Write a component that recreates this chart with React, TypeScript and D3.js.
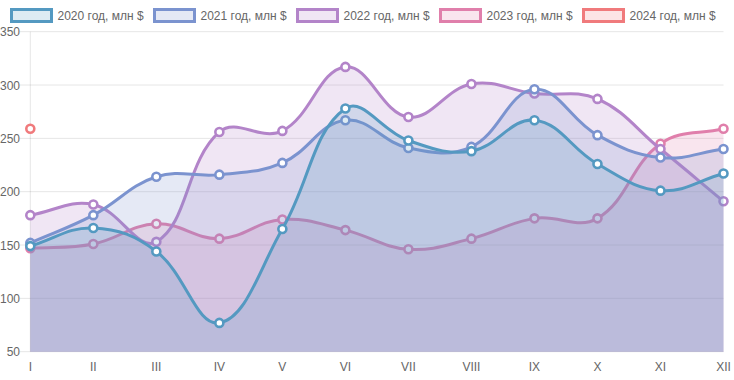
import React from "react";
import * as d3 from "d3";

const months = ["I", "II", "III", "IV", "V", "VI", "VII", "VIII", "IX", "X", "XI", "XII"];
const seriesNames = ["2020 год, млн $", "2021 год, млн $", "2022 год, млн $", "2023 год, млн $", "2024 год, млн $"];
const values2020: (number | null)[] = [149, 166, 144, 77, 165, 278, 248, 238, 267, 226, 201, 217];
const values2021: (number | null)[] = [152, 178, 214, 216, 227, 267, 241, 242, 296, 253, 232, 240];
const values2022: (number | null)[] = [178, 188, 153, 256, 257, 317, 270, 301, 292, 287, 240, 191];
const values2023: (number | null)[] = [147, 151, 170, 156, 174, 164, 146, 156, 175, 175, 245, 259];
const values2024: (number | null)[] = [259, null, null, null, null, null, null, null, null, null, null, null];
const yTicks = [50, 100, 150, 200, 250, 300, 350];
const colors = ["#5499c1", "#7b93cf", "#b384c9", "#e07fab", "#f07a7c"];

const W = 734;
const H = 380;
const LEFT = 30.3;
const RIGHT = 723.5;
const TOP = 31.7;
const BOTTOM = 351.7;
const FONT = "'Liberation Sans', Arial, Helvetica, sans-serif";

function chartJsCurve(t: number) {
  return (context: any) => {
    let pts: [number, number][] = [];
    let lineState: any = undefined;
    const clampX = (v: number) => Math.max(LEFT, Math.min(RIGHT, v));
    const clampY = (v: number) => Math.max(TOP, Math.min(BOTTOM, v));
    return {
      areaStart() { lineState = 0; },
      areaEnd() { lineState = NaN; },
      lineStart() { pts = []; },
      lineEnd() {
        const n = pts.length;
        if (n > 0) {
          if (lineState) context.lineTo(pts[0][0], pts[0][1]);
          else context.moveTo(pts[0][0], pts[0][1]);
          const cps = pts.map((p, i) => {
            const prev = pts[i - 1] || p;
            const next = pts[i + 1] || p;
            const d01 = Math.hypot(p[0] - prev[0], p[1] - prev[1]);
            const d12 = Math.hypot(next[0] - p[0], next[1] - p[1]);
            let s01 = d01 / (d01 + d12);
            let s12 = d12 / (d01 + d12);
            if (isNaN(s01)) s01 = 0;
            if (isNaN(s12)) s12 = 0;
            const fa = t * s01;
            const fb = t * s12;
            return {
              px: clampX(p[0] - fa * (next[0] - prev[0])),
              py: clampY(p[1] - fa * (next[1] - prev[1])),
              nx: clampX(p[0] + fb * (next[0] - prev[0])),
              ny: clampY(p[1] + fb * (next[1] - prev[1])),
            };
          });
          for (let i = 1; i < n; i++) {
            context.bezierCurveTo(cps[i - 1].nx, cps[i - 1].ny, cps[i].px, cps[i].py, pts[i][0], pts[i][1]);
          }
        }
        if (lineState || (lineState !== 0 && n === 1)) context.closePath();
        lineState = 1 - lineState;
      },
      point(x: number, y: number) { pts.push([+x, +y]); },
    };
  };
}

export default function App() {
  const series = [values2020, values2021, values2022, values2023, values2024];
  const x = d3.scalePoint<string>().domain(months).range([LEFT, RIGHT]);
  const y = d3.scaleLinear().domain([50, 350]).range([BOTTOM, TOP]);
  const curve = chartJsCurve(0.4) as any;

  const line = d3.line<number | null>()
    .defined((d) => d != null)
    .x((_, i) => x(months[i])!)
    .y((d) => y(d as number))
    .curve(curve);
  const area = d3.area<number | null>()
    .defined((d) => d != null)
    .x((_, i) => x(months[i])!)
    .y0(BOTTOM)
    .y1((d) => y(d as number))
    .curve(curve);

  const order = [4, 3, 2, 1, 0];

  return (
    <svg width={W} height={H} style={{ position: "absolute", left: 0, top: 0, background: "#fff" }}>
      {/* grid */}
      {yTicks.map((t) => (
        <line key={t} x1={20} x2={RIGHT} y1={y(t)} y2={y(t)} stroke="rgba(0,0,0,0.1)" strokeWidth={1} />
      ))}
      <line x1={LEFT} x2={LEFT} y1={TOP} y2={BOTTOM} stroke="rgba(0,0,0,0.1)" strokeWidth={1} />
      {/* y labels */}
      {yTicks.map((t) => (
        <text key={t} x={20} y={y(t) + 4.5} textAnchor="end" fontSize={12} fill="#666" fontFamily={FONT}>{t}</text>
      ))}
      {/* x labels */}
      {months.map((m) => (
        <text key={m} x={x(m)!} y={371} textAnchor="middle" fontSize={12} fill="#666" fontFamily={FONT}>{m}</text>
      ))}
      {/* datasets */}
      {order.map((si) => {
        const data = series[si];
        const count = data.filter((d) => d != null).length;
        return (
          <g key={si}>
            {count > 1 && <path d={area(data) || ""} fill={colors[si]} fillOpacity={0.2} stroke="none" />}
            {count > 1 && <path d={line(data) || ""} fill="none" stroke={colors[si]} strokeWidth={3} />}
            {data.map((d, i) => d == null ? null : (
              <circle key={i} cx={x(months[i])!} cy={y(d)} r={4} fill="#fff" stroke={colors[si]} strokeWidth={2.6} />
            ))}
          </g>
        );
      })}
      {/* legend */}
      {seriesNames.map((name, i) => {
        const bx = 11.5 + i * 143;
        return (
          <g key={name}>
            <rect x={bx} y={9.5} width={40} height={12} fill={colors[i]} fillOpacity={0.2} stroke={colors[i]} strokeWidth={3} />
            <rect x={bx} y={9.5} width={40} height={12} fill="#fff" fillOpacity={0} stroke="none" />
            <text x={bx + 46} y={20} fontSize={12} fill="#666" fontFamily={FONT}>{name}</text>
          </g>
        );
      })}
    </svg>
  );
}
